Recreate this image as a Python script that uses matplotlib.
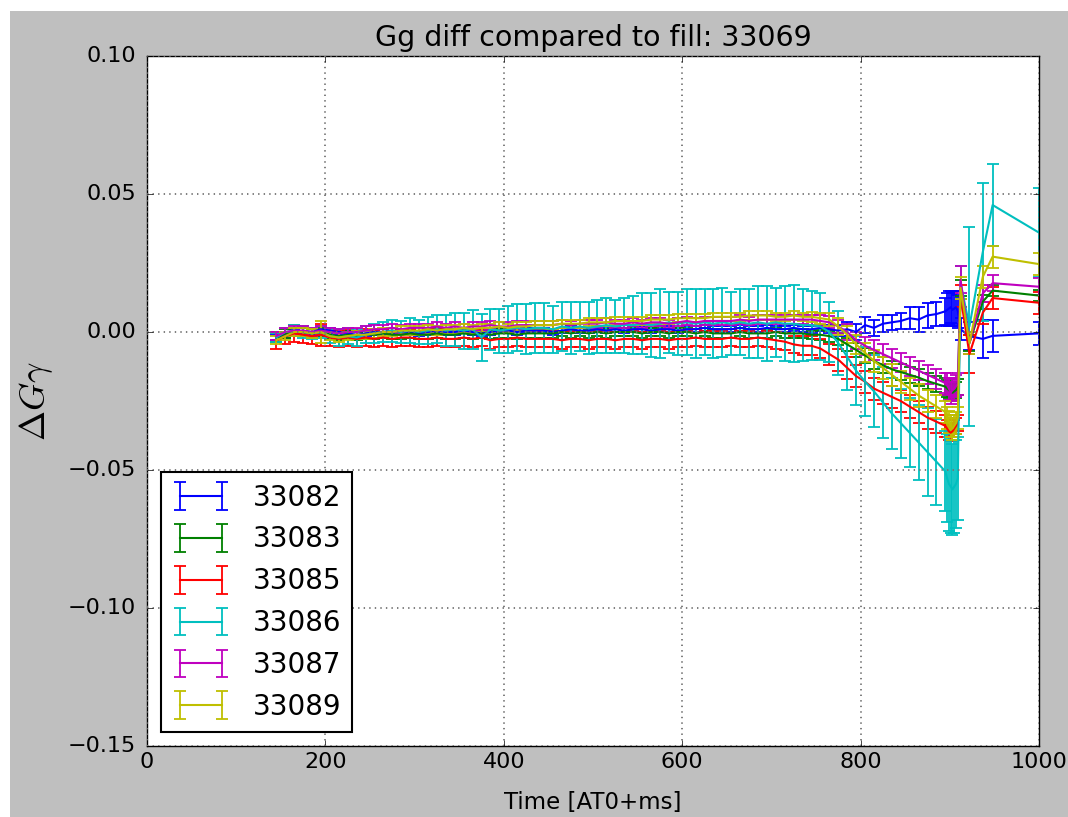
import matplotlib
matplotlib.use('Agg')
import matplotlib.pyplot as plt
from matplotlib.patches import Rectangle

plt.style.use('classic')

# ---------------- data ----------------
time_ms = [145, 155, 165, 175, 185, 195, 205, 215, 225, 235,
           245, 255, 265, 275, 285, 295, 305, 315, 325, 335,
           345, 355, 365, 375, 385, 395, 405, 415, 425, 435,
           445, 455, 465, 475, 485, 495, 505, 515, 525, 535,
           545, 555, 565, 575, 585, 595, 605, 615, 625, 635,
           645, 655, 665, 675, 685, 695, 705, 715, 725, 735,
           745, 755, 765, 775, 785, 795, 805, 815, 825, 835,
           845, 855, 865, 875, 885, 895,
           897, 899, 901, 903, 905, 907, 909,
           912, 922, 937, 948, 1000]

labels = ['33082', '33083', '33085', '33086', '33087', '33089']
colors = ['b', 'g', 'r', 'c', 'm', 'y']

d33082 = [-0.002, -0.001, 0.0, 0.0005, 0.0, 0.001, 0.0005, 0.0, -0.0005, -0.001,
          -0.0005, 0.0, 0.0, 0.0005, 0.0, 0.0, -0.0005, 0.0, 0.0005, 0.0,
          0.0, 0.0005, 0.0, -0.0005, 0.0, 0.0005, 0.0005, 0.0, 0.0005, 0.0005,
          0.0005, 0.0, 0.0005, 0.001, 0.0005, 0.0005, 0.001, 0.0005, 0.001, 0.0005,
          0.001, 0.001, 0.0005, 0.001, 0.001, 0.0005, 0.001, 0.001, 0.0015, 0.001,
          0.001, 0.001, 0.0015, 0.001, 0.001, 0.0015, 0.001, 0.001, 0.0015, 0.001,
          0.001, 0.0015, 0.001, 0.0005, 0.001, 0.0, 0.0025, 0.0015, 0.003, 0.0035,
          0.004, 0.005, 0.0045, 0.006, 0.0065, 0.0075,
          0.008, 0.0085, 0.009, 0.008, 0.0085, 0.009, 0.0075,
          0.001, -0.0015, -0.0025, -0.0014, -0.0005]
e33082 = [0.001, 0.001, 0.001, 0.001, 0.001, 0.0012, 0.001, 0.001, 0.001, 0.001,
          0.001, 0.001, 0.001, 0.001, 0.001, 0.001, 0.001, 0.001, 0.001, 0.001,
          0.001, 0.001, 0.001, 0.0012, 0.001, 0.001, 0.001, 0.001, 0.001, 0.001,
          0.001, 0.001, 0.001, 0.001, 0.001, 0.001, 0.001, 0.001, 0.001, 0.001,
          0.001, 0.001, 0.001, 0.001, 0.001, 0.001, 0.001, 0.001, 0.001, 0.001,
          0.001, 0.001, 0.001, 0.001, 0.001, 0.001, 0.001, 0.001, 0.001, 0.001,
          0.0012, 0.0012, 0.0015, 0.002, 0.0025, 0.003, 0.003, 0.0028, 0.003, 0.0028,
          0.003, 0.004, 0.0045, 0.0045, 0.0045, 0.0048,
          0.006, 0.0062, 0.0058, 0.006, 0.0062, 0.006, 0.006,
          0.004, 0.005, 0.007, 0.0057, 0.0042]

d33083 = [-0.002, -0.0005, 0.0, 0.0, -0.0005, 0.0, -0.001, -0.0015, -0.001, -0.0015,
          -0.001, -0.001, -0.0005, -0.001, -0.001, -0.0005, -0.001, -0.001, -0.0005, -0.001,
          -0.001, -0.0005, -0.001, -0.0005, -0.001, -0.0005, -0.0005, -0.001, -0.0005, -0.0005,
          -0.0005, -0.0005, 0.0, -0.0005, 0.0, -0.0005, 0.0, -0.0005, 0.0, 0.0,
          0.0, -0.0005, 0.0, 0.0, -0.0005, 0.0, 0.0, -0.0005, 0.0, -0.0005,
          -0.0005, -0.0005, 0.0, -0.0005, -0.0005, -0.0005, 0.0, -0.0005, -0.0005, -0.0005,
          -0.001, -0.001, -0.0015, -0.0025, -0.0045, -0.0065, -0.0085, -0.0105, -0.012, -0.0135,
          -0.0145, -0.0155, -0.0165, -0.0178, -0.0188, -0.0198,
          -0.0205, -0.021, -0.0215, -0.022, -0.0215, -0.021, -0.02,
          0.016, -0.004, 0.011, 0.015, 0.0132]
e33083 = [0.0015, 0.0015, 0.0015, 0.0015, 0.0015, 0.0015, 0.0015, 0.0015, 0.0015, 0.0015,
          0.0015, 0.0015, 0.0015, 0.0015, 0.0015, 0.0015, 0.0015, 0.0015, 0.0015, 0.0015,
          0.0015, 0.0015, 0.0015, 0.0015, 0.0015, 0.0015, 0.0015, 0.0015, 0.0015, 0.0015,
          0.0015, 0.0015, 0.0015, 0.0015, 0.0015, 0.0015, 0.0015, 0.0015, 0.0015, 0.0015,
          0.0015, 0.0015, 0.0015, 0.0015, 0.0015, 0.0015, 0.0015, 0.0015, 0.0015, 0.0015,
          0.0015, 0.0015, 0.0015, 0.0015, 0.0015, 0.0015, 0.0015, 0.0015, 0.0015, 0.0015,
          0.0015, 0.0018, 0.002, 0.0022, 0.0025, 0.0025, 0.0028, 0.003, 0.003, 0.003,
          0.003, 0.003, 0.003, 0.003, 0.003, 0.003,
          0.003, 0.003, 0.003, 0.003, 0.003, 0.003, 0.003,
          0.003, 0.003, 0.0025, 0.002, 0.002]

d33085 = [-0.003, -0.0015, -0.0005, -0.001, -0.0015, -0.001, -0.002, -0.0025, -0.002, -0.0025,
          -0.002, -0.0025, -0.002, -0.0025, -0.002, -0.002, -0.0025, -0.0025, -0.002, -0.0025,
          -0.0025, -0.002, -0.0025, -0.002, -0.003, -0.0025, -0.0025, -0.002, -0.0025, -0.0025,
          -0.0025, -0.0025, -0.003, -0.0025, -0.0025, -0.003, -0.0025, -0.0025, -0.003, -0.0025,
          -0.0025, -0.003, -0.0025, -0.0025, -0.003, -0.0025, -0.0025, -0.002, -0.0025, -0.0025,
          -0.0025, -0.002, -0.0025, -0.0025, -0.002, -0.0025, -0.003, -0.0035, -0.0045, -0.005,
          -0.005, -0.006, -0.008, -0.010, -0.013, -0.016, -0.018, -0.0205, -0.022, -0.0235,
          -0.025, -0.027, -0.029, -0.031, -0.0325, -0.034,
          -0.035, -0.036, -0.0365, -0.036, -0.035, -0.034, -0.033,
          0.013, -0.008, 0.007, 0.0123, 0.0106]
e33085 = [0.003, 0.003, 0.003, 0.003, 0.003, 0.004, 0.003, 0.003, 0.003, 0.003,
          0.003, 0.003, 0.003, 0.003, 0.003, 0.003, 0.003, 0.003, 0.003, 0.003,
          0.003, 0.003, 0.003, 0.003, 0.003, 0.003, 0.003, 0.003, 0.003, 0.003,
          0.003, 0.003, 0.003, 0.003, 0.003, 0.003, 0.003, 0.003, 0.003, 0.003,
          0.003, 0.003, 0.003, 0.003, 0.003, 0.003, 0.003, 0.003, 0.003, 0.003,
          0.003, 0.003, 0.003, 0.003, 0.003, 0.003, 0.003, 0.003, 0.0032, 0.0035,
          0.0035, 0.0035, 0.0038, 0.004, 0.004, 0.004, 0.004, 0.004, 0.004, 0.004,
          0.004, 0.004, 0.004, 0.004, 0.004, 0.004,
          0.003, 0.003, 0.003, 0.003, 0.003, 0.003, 0.003,
          0.004, 0.007, 0.004, 0.004, 0.004]

d33086 = [-0.002, 0.0, 0.0005, 0.0, -0.0005, 0.0, -0.0015, -0.002, -0.0015, -0.002,
          -0.001, -0.0005, 0.0, 0.0005, 0.0, 0.0005, 0.0, 0.0005, 0.001, 0.0005,
          0.001, 0.0005, 0.001, -0.002, 0.001, 0.0005, 0.001, 0.0015, 0.001, 0.0015,
          0.0015, 0.001, 0.002, 0.0015, 0.002, 0.0015, 0.002, 0.0025, 0.002, 0.0025,
          0.0025, 0.003, 0.0025, 0.003, 0.0035, 0.003, 0.0035, 0.003, 0.0035, 0.003,
          0.0035, 0.003, 0.0035, 0.003, 0.0035, 0.003, 0.0035, 0.003, 0.003, 0.0025,
          0.0025, 0.002, 0.0, -0.004, -0.009, -0.014, -0.018, -0.0215, -0.0255, -0.0295,
          -0.033, -0.0365, -0.040, -0.0435, -0.047, -0.0505,
          -0.053, -0.055, -0.056, -0.057, -0.056, -0.055, -0.053,
          0.018, 0.002, 0.029, 0.046, 0.036]
e33086 = [0.0015, 0.0015, 0.002, 0.002, 0.002, 0.002, 0.0025, 0.003, 0.003, 0.003,
          0.003, 0.0035, 0.0035, 0.004, 0.004, 0.0045, 0.0045, 0.005, 0.005, 0.0055,
          0.006, 0.0065, 0.007, 0.0085, 0.0075, 0.008, 0.0085, 0.0085, 0.009, 0.009,
          0.009, 0.0085, 0.009, 0.0095, 0.009, 0.0095, 0.0095, 0.010, 0.0095, 0.010,
          0.0105, 0.011, 0.0115, 0.0125, 0.011, 0.0115, 0.012, 0.0125, 0.012, 0.0125,
          0.0125, 0.0115, 0.012, 0.0125, 0.013, 0.0135, 0.0125, 0.0135, 0.014, 0.013,
          0.0125, 0.012, 0.011, 0.0115, 0.012, 0.0125, 0.0125, 0.013, 0.013, 0.013,
          0.0125, 0.0125, 0.0135, 0.016, 0.0155, 0.0145,
          0.016, 0.017, 0.017, 0.0165, 0.017, 0.016, 0.015,
          0.006, 0.036, 0.025, 0.015, 0.016]

d33087 = [-0.0015, 0.0, 0.0005, 0.0005, 0.0, 0.0005, 0.0, -0.0005, 0.0, 0.0,
          0.0005, 0.001, 0.001, 0.0015, 0.001, 0.0015, 0.0015, 0.0015, 0.002, 0.0015,
          0.002, 0.0015, 0.002, 0.002, 0.0025, 0.002, 0.002, 0.0025, 0.0025, 0.0025,
          0.0025, 0.0025, 0.003, 0.0025, 0.003, 0.003, 0.003, 0.0035, 0.003, 0.003,
          0.0035, 0.003, 0.0035, 0.0035, 0.003, 0.0035, 0.004, 0.0035, 0.004, 0.004,
          0.004, 0.004, 0.0045, 0.004, 0.0045, 0.0045, 0.0045, 0.0045, 0.0045, 0.0045,
          0.0045, 0.004, 0.0035, 0.002, 0.0, -0.003, -0.005, -0.0065, -0.008, -0.0095,
          -0.011, -0.0125, -0.014, -0.0155, -0.017, -0.0185,
          -0.019, -0.0205, -0.022, -0.021, -0.0205, -0.0195, -0.019,
          0.019, -0.004, 0.014, 0.0177, 0.0164]
e33087 = [0.0015, 0.0015, 0.0015, 0.0015, 0.0015, 0.0015, 0.0015, 0.0015, 0.0015, 0.0015,
          0.0015, 0.0015, 0.0015, 0.0015, 0.0015, 0.0015, 0.0015, 0.0015, 0.0015, 0.0015,
          0.0015, 0.0015, 0.0015, 0.0015, 0.0015, 0.0015, 0.0015, 0.0015, 0.0015, 0.0015,
          0.0015, 0.0015, 0.0015, 0.0015, 0.0015, 0.0015, 0.0015, 0.0015, 0.0015, 0.0015,
          0.0015, 0.0015, 0.0015, 0.0015, 0.0015, 0.0015, 0.0015, 0.0015, 0.0015, 0.0015,
          0.0015, 0.0015, 0.0015, 0.0015, 0.0015, 0.0015, 0.0015, 0.0015, 0.0015, 0.0015,
          0.0018, 0.002, 0.0022, 0.0025, 0.003, 0.003, 0.0032, 0.0035, 0.0035, 0.0035,
          0.0035, 0.0035, 0.0035, 0.0035, 0.0035, 0.0035,
          0.004, 0.004, 0.004, 0.004, 0.004, 0.004, 0.004,
          0.005, 0.004, 0.003, 0.003, 0.003]

d33089 = [-0.003, -0.0015, 0.0, 0.0, -0.0005, 0.0, -0.0015, -0.002, -0.0015, -0.001,
          -0.001, -0.0005, 0.0, 0.0, 0.0005, 0.0005, 0.0005, 0.001, 0.0005, 0.001,
          0.001, 0.0015, 0.001, 0.0015, 0.0015, 0.002, 0.0015, 0.002, 0.002, 0.0025,
          0.0025, 0.0025, 0.003, 0.003, 0.003, 0.0035, 0.0035, 0.0035, 0.004, 0.004,
          0.004, 0.004, 0.0045, 0.0045, 0.0045, 0.005, 0.005, 0.005, 0.005, 0.0055,
          0.0055, 0.0055, 0.0055, 0.006, 0.006, 0.006, 0.0055, 0.0055, 0.006, 0.0055,
          0.0055, 0.005, 0.0045, 0.002, -0.001, -0.0045, -0.0075, -0.0105, -0.013, -0.0155,
          -0.018, -0.0205, -0.023, -0.025, -0.027, -0.029,
          -0.031, -0.0325, -0.034, -0.035, -0.034, -0.033, -0.031,
          0.016, -0.004, 0.020, 0.0273, 0.0246]
e33089 = [0.0015, 0.0015, 0.0015, 0.0015, 0.0015, 0.004, 0.0015, 0.0015, 0.0015, 0.0015,
          0.0015, 0.0015, 0.0015, 0.0015, 0.0015, 0.0015, 0.0015, 0.0015, 0.0015, 0.0015,
          0.0015, 0.0015, 0.0015, 0.0015, 0.0015, 0.0015, 0.0015, 0.0015, 0.0015, 0.0015,
          0.0015, 0.0015, 0.0015, 0.0015, 0.0015, 0.0015, 0.0015, 0.0015, 0.0015, 0.0015,
          0.0015, 0.0015, 0.0015, 0.0015, 0.0015, 0.0015, 0.0015, 0.0015, 0.0015, 0.0015,
          0.0015, 0.0015, 0.0015, 0.0015, 0.0015, 0.0015, 0.0015, 0.0015, 0.0015, 0.0015,
          0.0018, 0.002, 0.0025, 0.003, 0.003, 0.0035, 0.0035, 0.004, 0.004, 0.004,
          0.004, 0.004, 0.004, 0.004, 0.004, 0.004,
          0.004, 0.004, 0.004, 0.004, 0.004, 0.004, 0.004,
          0.004, 0.004, 0.004, 0.004, 0.004]

series_values = [d33082, d33083, d33085, d33086, d33087, d33089]
series_errors = [e33082, e33083, e33085, e33086, e33087, e33089]

x_ticks = [0, 200, 400, 600, 800, 1000]
y_ticks = [-0.15, -0.10, -0.05, 0.00, 0.05, 0.10]

# ---------------- figure ----------------
W, H = 1068, 817
fig = plt.figure(figsize=(W / 100, H / 100), dpi=100, facecolor='#bfbfbf')
# thin white screenshot margins at top / left
fig.patches.append(Rectangle((0, 1 - 11 / H), 1, 11 / H, transform=fig.transFigure,
                             facecolor='white', edgecolor='none', zorder=-10))
fig.patches.append(Rectangle((0, 0), 10 / W, 1, transform=fig.transFigure,
                             facecolor='white', edgecolor='none', zorder=-10))

ax = fig.add_axes([147 / W, 1 - 746 / H, (1039 - 147) / W, (746 - 56) / H])

for lab, vals, errs, col in zip(labels, series_values, series_errors, colors):
    ax.errorbar(time_ms, vals, yerr=errs, color=col, ecolor=col, label=lab,
                capsize=4, capthick=1.3, elinewidth=1.3, linewidth=1.5)

ax.set_xlim(0, 1000)
ax.set_ylim(-0.15, 0.10)
ax.set_xticks(x_ticks)
ax.set_yticks(y_ticks)
ax.set_yticklabels([f'{v:.2f}'.replace('-', '\u2212') for v in y_ticks])
ax.tick_params(labelsize=16)
ax.tick_params(axis='y', pad=8)
ax.grid(True, color='0.45', linestyle=(0, (1.0, 3.0)), linewidth=1.3)

ax.set_title('Gg diff compared to fill: 33069', fontsize=20.5, y=1.005)
ax.set_xlabel('Time [AT0+ms]', fontsize=16.5, labelpad=14)
ax.set_ylabel(r'$\Delta G\gamma$', fontsize=26, labelpad=9)

leg = ax.legend(loc='lower left', fontsize=20, numpoints=2, handlelength=2.1)
leg.get_frame().set_linewidth(1.5)

fig.savefig('out.png', dpi=100, facecolor=fig.get_facecolor())
